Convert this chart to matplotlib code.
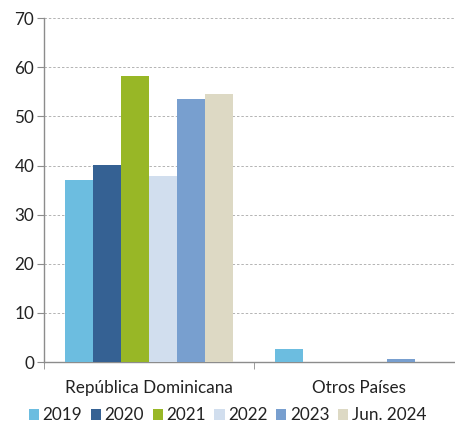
import matplotlib
matplotlib.use("Agg")
import matplotlib.pyplot as plt
import numpy as np

categories = ["República Dominicana", "Otros Países"]
series_names = ["2019", "2020", "2021", "2022", "2023", "Jun. 2024"]
values = {
    "2019": [37.0, 2.7],
    "2020": [40.1, 0.0],
    "2021": [58.2, 0.0],
    "2022": [37.9, 0.0],
    "2023": [53.5, 0.7],
    "Jun. 2024": [54.5, 0.0],
}
colors = ["#6CBDE0", "#356193", "#98B726", "#D1DEEE", "#789FCF", "#DDD9C4"]

plt.rcParams['font.family'] = ['Lato', 'DejaVu Sans']

fig = plt.figure(figsize=(4.55, 4.32), dpi=100)
ax = fig.add_axes([0.0967, 0.162, 0.923, 0.796])

x = np.arange(len(categories))
n = len(series_names)
bw = 0.8 / n
for i, (name, c) in enumerate(zip(series_names, colors)):
    offs = (i - (n - 1) / 2) * bw
    ax.bar(x + offs, values[name], width=bw, color=c, label=name, zorder=3)

ax.set_xlim(-0.5, 1.5)
ax.set_ylim(0, 70)
ax.set_yticks(range(0, 71, 10))
ax.yaxis.grid(True, linestyle=(0, (2.5, 2)), color="#B3B3B3", linewidth=0.7, zorder=0)
ax.set_axisbelow(True)

for s in ["top", "right"]:
    ax.spines[s].set_visible(False)
for s in ["left", "bottom"]:
    ax.spines[s].set_color("#8C8C8C")
    ax.spines[s].set_linewidth(1.0)

ax.set_xticks(x)
ax.set_xticklabels(categories)
ax.set_xticks([-0.5, 0.5, 1.5], minor=True)
ax.tick_params(axis="x", which="major", length=0, pad=13, labelsize=12.3, colors="#222222")
ax.tick_params(axis="x", which="minor", length=5, color="#8C8C8C", direction="out")
ax.tick_params(axis="y", length=5, color="#8C8C8C", labelsize=12.3, labelcolor="#222222", pad=2)

leg = fig.legend(loc="lower center", bbox_to_anchor=(0.5, -0.015), ncol=6, frameon=False,
                 fontsize=12.3, handlelength=0.6, handleheight=0.6, handletextpad=0.2,
                 columnspacing=0.5, labelcolor="#222222")

fig.savefig("out.png", dpi=100)
